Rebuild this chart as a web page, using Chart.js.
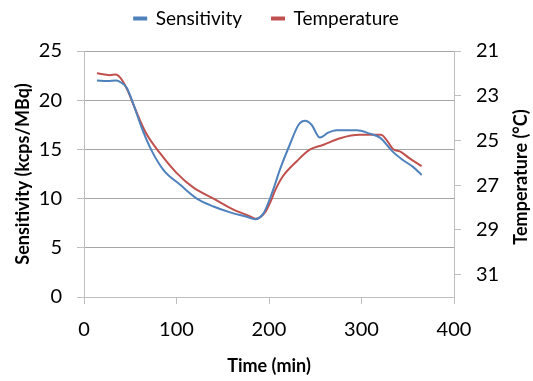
<!DOCTYPE html>
<html>
<head>
<meta charset="utf-8">
<script src="https://cdn.jsdelivr.net/npm/chart.js@4.4.1/dist/chart.umd.min.js"></script>
<style>
  html, body { margin: 0; padding: 0; background: #fff; }
  #wrap { width: 533px; height: 381px; }
</style>
</head>
<body>
<div id="wrap"><canvas id="chart"></canvas></div>
<script>
// Sensitivity (kcps/MBq) vs time (min)
const sensTimes = [14, 25, 35, 40, 46, 53, 62, 73, 86, 104, 122, 140, 158, 176, 185, 194, 203, 212, 223, 232, 239, 246, 255, 264, 273, 295, 309, 320, 334, 345, 356, 365];
const sensValues = [22.0, 21.95, 22.0, 21.8, 21.3, 19.7, 17.3, 14.9, 12.9, 11.4, 10.0, 9.2, 8.6, 8.15, 7.9, 8.5, 10.5, 13.0, 15.6, 17.5, 17.9, 17.5, 16.2, 16.7, 16.95, 16.95, 16.6, 16.2, 14.75, 13.9, 13.2, 12.4];

// Temperature (°C) vs time (min)
const tempTimes = [14, 28, 34, 40, 47, 55, 67, 82, 100, 118, 140, 161, 179, 185, 196, 201, 207, 215, 230, 244, 259, 277, 298, 321, 327, 334, 342, 352, 365];
const tempValues = [22.0, 22.08, 22.05, 22.23, 22.75, 23.56, 24.67, 25.56, 26.45, 27.1, 27.6, 28.08, 28.38, 28.5, 28.2, 27.8, 27.2, 26.6, 25.93, 25.41, 25.19, 24.9, 24.75, 24.75, 24.97, 25.38, 25.5, 25.8, 26.15];

const xTicks = [0, 100, 200, 300, 400];
const leftTicks = [0, 5, 10, 15, 20, 25];
const rightTicks = [21, 23, 25, 27, 29, 31];

const FONT = 'Lato, "Open Sans", sans-serif';
const gridColor = '#a6a6a6';
const axisColor = '#bfbfbf';
const LEGEND_PAD = 30;

const toPoints = (xs, ys) => xs.map((x, i) => ({ x: x, y: ys[i] }));

// wide gaps between legend items, but keep the legend near the top
const legendTweak = {
  id: 'legendTweak',
  beforeInit(chart) {
    const lg = chart.legend;
    const fit = lg.fit;
    lg.fit = function () {
      fit.bind(lg)();
      this.height = 51;
    };
    const draw = lg.draw;
    lg.draw = function () {
      const ctx = chart.ctx;
      ctx.save();
      ctx.translate(0, -21);
      draw.bind(lg)();
      ctx.restore();
    };
  }
};

// right axis title reads bottom-to-top, like the left one
const rightTitle = {
  id: 'rightTitle',
  afterDraw(chart) {
    const ctx = chart.ctx;
    const area = chart.chartArea;
    ctx.save();
    ctx.translate(521, (area.top + area.bottom) / 2 + 3);
    ctx.rotate(-Math.PI / 2);
    ctx.font = 'bold 18px ' + FONT;
    ctx.fillStyle = '#000';
    ctx.textAlign = 'center';
    ctx.textBaseline = 'middle';
    ctx.fillText('Temperature (°C)', 0, 0);
    ctx.restore();
  }
};

new Chart(document.getElementById('chart'), {
  type: 'line',
  data: {
    datasets: [
      {
        label: 'Sensitivity',
        data: toPoints(sensTimes, sensValues),
        borderColor: '#4f81bd',
        backgroundColor: '#4f81bd',
        borderWidth: 2,
        pointRadius: 0,
        cubicInterpolationMode: 'monotone',
        yAxisID: 'y'
      },
      {
        label: 'Temperature',
        data: toPoints(tempTimes, tempValues),
        borderColor: '#c0504d',
        backgroundColor: '#c0504d',
        borderWidth: 2,
        pointRadius: 0,
        cubicInterpolationMode: 'monotone',
        yAxisID: 'y2'
      }
    ]
  },
  options: {
    responsive: true,
    maintainAspectRatio: false,
    animation: false,
    layout: { padding: 0 },
    plugins: {
      legend: {
        position: 'top',
        labels: {
          font: { family: FONT, size: 19 },
          color: '#000',
          boxWidth: 12,
          boxHeight: 2,
          padding: LEGEND_PAD
        }
      },
      tooltip: { enabled: false }
    },
    scales: {
      x: {
        type: 'linear',
        min: 0,
        max: 400,
        afterBuildTicks: s => { s.ticks = xTicks.map(v => ({ value: v })); },
        afterFit: s => { s.height = 84; },
        grid: { drawOnChartArea: false, color: axisColor, tickLength: 7 },
        border: { color: axisColor },
        ticks: { font: { family: FONT, size: 20 }, color: '#000', padding: 14, maxRotation: 0 },
        title: { display: true, text: 'Time (min)', font: { family: FONT, size: 18, weight: 'bold' }, color: '#000', padding: { bottom: 4 } }
      },
      y: {
        position: 'left',
        min: 0,
        max: 25,
        afterBuildTicks: s => { s.ticks = leftTicks.map(v => ({ value: v })); },
        afterFit: s => { s.width = 84; },
        grid: { color: gridColor, tickColor: axisColor, tickLength: 7 },
        border: { color: axisColor },
        ticks: { font: { family: FONT, size: 20 }, color: '#000', padding: 15 },
        title: { display: true, text: 'Sensitivity (kcps/MBq)', font: { family: FONT, size: 18, weight: 'bold' }, color: '#000', padding: { top: 12 } }
      },
      y2: {
        position: 'right',
        reverse: true,
        min: 21,
        max: 32,
        afterBuildTicks: s => { s.ticks = rightTicks.map(v => ({ value: v })); },
        afterFit: s => { s.width = 79; },
        grid: { drawOnChartArea: false, color: axisColor, tickLength: 7 },
        border: { color: axisColor },
        ticks: { font: { family: FONT, size: 20 }, color: '#000', padding: 15 },
        title: { display: false }
      }
    }
  },
  plugins: [legendTweak, rightTitle]
});
</script>
</body>
</html>
